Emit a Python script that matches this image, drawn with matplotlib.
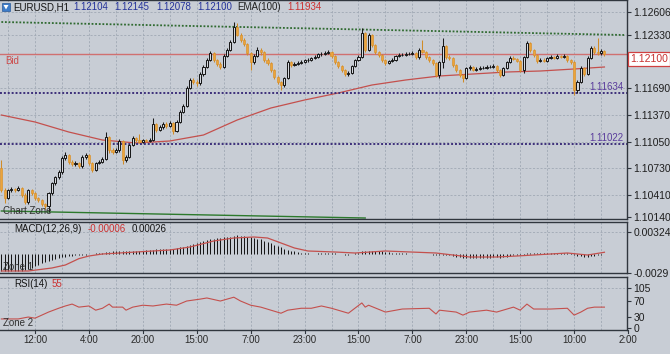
import numpy as np
import matplotlib.pyplot as plt
from matplotlib import transforms
from matplotlib.patches import Rectangle, Polygon

# ---- candles (EURUSD H1), bar index 0..179 ----
opens = [1.10732, 1.10468, 1.10372, 1.10468, 1.10480, 1.10468, 1.10492, 1.10408, 1.10324, 1.10468,
         1.10432, 1.10372, 1.10348, 1.10300, 1.10276, 1.10432, 1.10552, 1.10624, 1.10684, 1.10852,
         1.10888, 1.10804, 1.10780, 1.10792, 1.10756, 1.10864, 1.10888, 1.10792, 1.10708, 1.10792,
         1.10804, 1.10840, 1.11104, 1.10948, 1.10924, 1.10948, 1.11056, 1.10828, 1.10864, 1.11008,
         1.11092, 1.11068, 1.11044, 1.11068, 1.11056, 1.11068, 1.11260, 1.11188, 1.11224, 1.11260,
         1.11236, 1.11272, 1.11176, 1.11284, 1.11404, 1.11476, 1.11692, 1.11788, 1.11764, 1.11752,
         1.11860, 1.11944, 1.12028, 1.12112, 1.12028, 1.11980, 1.11944, 1.12076, 1.12148, 1.12244,
         1.12424, 1.12328, 1.12268, 1.12220, 1.12112, 1.12004, 1.12076, 1.12148, 1.12124, 1.12028,
         1.11992, 1.11908, 1.11824, 1.11764, 1.11728, 1.11812, 1.12004, 1.11968, 1.11980, 1.11992,
         1.12004, 1.12028, 1.12028, 1.12052, 1.12064, 1.12100, 1.12100, 1.12112, 1.12124, 1.12076,
         1.12004, 1.11956, 1.11908, 1.11860, 1.11872, 1.11956, 1.12028, 1.12064, 1.12352, 1.12148,
         1.12328, 1.12208, 1.12124, 1.12088, 1.12028, 1.11992, 1.12016, 1.12028, 1.12076, 1.12088,
         1.12088, 1.12100, 1.12100, 1.12112, 1.12064, 1.12148, 1.12124, 1.12064, 1.12028, 1.11992,
         1.11848, 1.12004, 1.12196, 1.12064, 1.12052, 1.11968, 1.11908, 1.11848, 1.11812, 1.11932,
         1.11944, 1.11908, 1.11920, 1.11932, 1.11932, 1.11944, 1.11944, 1.11956, 1.11908, 1.11848,
         1.11932, 1.12004, 1.12052, 1.12040, 1.12016, 1.11908, 1.12064, 1.12232, 1.12148, 1.12088,
         1.12016, 1.12028, 1.12016, 1.12052, 1.12064, 1.12052, 1.12076, 1.12064, 1.12076, 1.12028,
         1.12004, 1.11668, 1.11764, 1.11932, 1.11860, 1.12052, 1.12172, 1.12124, 1.12112, 1.12136]
highs = [1.10828, 1.10492, 1.10480, 1.10504, 1.10492, 1.10516, 1.10504, 1.10432, 1.10480, 1.10480,
         1.10444, 1.10384, 1.10360, 1.10312, 1.10444, 1.10564, 1.10636, 1.10708, 1.10876, 1.10924,
         1.10900, 1.10828, 1.10816, 1.10804, 1.10888, 1.10912, 1.10900, 1.10804, 1.10804, 1.10828,
         1.10864, 1.11164, 1.11116, 1.10972, 1.10972, 1.11080, 1.11068, 1.10888, 1.11020, 1.11116,
         1.11104, 1.11140, 1.11080, 1.11080, 1.11092, 1.11332, 1.11272, 1.11248, 1.11284, 1.11284,
         1.11296, 1.11284, 1.11308, 1.11428, 1.11500, 1.11716, 1.11812, 1.11812, 1.11788, 1.11884,
         1.11968, 1.12052, 1.12136, 1.12124, 1.12040, 1.12004, 1.12100, 1.12172, 1.12268, 1.12484,
         1.12472, 1.12352, 1.12292, 1.12232, 1.12124, 1.12100, 1.12184, 1.12172, 1.12136, 1.12052,
         1.12004, 1.11920, 1.11836, 1.11776, 1.11824, 1.12028, 1.12016, 1.12004, 1.12016, 1.12028,
         1.12040, 1.12052, 1.12064, 1.12088, 1.12112, 1.12124, 1.12136, 1.12148, 1.12136, 1.12088,
         1.12016, 1.11968, 1.11920, 1.11896, 1.11968, 1.12040, 1.12088, 1.12412, 1.12364, 1.12352,
         1.12340, 1.12220, 1.12136, 1.12100, 1.12040, 1.12028, 1.12052, 1.12088, 1.12112, 1.12112,
         1.12124, 1.12124, 1.12136, 1.12124, 1.12172, 1.12268, 1.12136, 1.12076, 1.12040, 1.12004,
         1.12016, 1.12292, 1.12208, 1.12088, 1.12064, 1.11980, 1.11920, 1.11860, 1.11944, 1.11968,
         1.11956, 1.11944, 1.11956, 1.11956, 1.11968, 1.11968, 1.11980, 1.11968, 1.11920, 1.11944,
         1.12016, 1.12076, 1.12076, 1.12052, 1.12028, 1.12076, 1.12256, 1.12244, 1.12160, 1.12100,
         1.12052, 1.12052, 1.12064, 1.12088, 1.12076, 1.12100, 1.12088, 1.12100, 1.12088, 1.12040,
         1.12016, 1.11788, 1.11956, 1.11944, 1.12076, 1.12196, 1.12196, 1.12292, 1.12160, 1.12148]
lows = [1.10444, 1.10312, 1.10360, 1.10444, 1.10444, 1.10456, 1.10384, 1.10300, 1.10300, 1.10408,
        1.10348, 1.10324, 1.10276, 1.10240, 1.10204, 1.10408, 1.10528, 1.10600, 1.10660, 1.10828,
        1.10780, 1.10756, 1.10756, 1.10732, 1.10732, 1.10840, 1.10768, 1.10684, 1.10696, 1.10780,
        1.10792, 1.10828, 1.10912, 1.10900, 1.10912, 1.10924, 1.10780, 1.10804, 1.10852, 1.10996,
        1.11044, 1.11032, 1.11032, 1.11044, 1.11044, 1.11056, 1.11164, 1.11176, 1.11200, 1.11212,
        1.11224, 1.11140, 1.11164, 1.11272, 1.11392, 1.11464, 1.11680, 1.11740, 1.11716, 1.11728,
        1.11836, 1.11932, 1.12016, 1.12004, 1.11956, 1.11920, 1.11932, 1.12064, 1.12136, 1.12232,
        1.12316, 1.12244, 1.12196, 1.12088, 1.11908, 1.11980, 1.12064, 1.12088, 1.12004, 1.11968,
        1.11884, 1.11800, 1.11740, 1.11668, 1.11704, 1.11800, 1.11944, 1.11956, 1.11968, 1.11980,
        1.11992, 1.12004, 1.12016, 1.12040, 1.12052, 1.12076, 1.12088, 1.12100, 1.12052, 1.11980,
        1.11932, 1.11884, 1.11836, 1.11836, 1.11860, 1.11944, 1.12016, 1.12052, 1.12124, 1.12136,
        1.12184, 1.12100, 1.12064, 1.12004, 1.11968, 1.11980, 1.12004, 1.12016, 1.12064, 1.12076,
        1.12076, 1.12088, 1.12088, 1.12040, 1.12040, 1.12112, 1.12040, 1.12004, 1.11968, 1.11824,
        1.11812, 1.11932, 1.12040, 1.12028, 1.11944, 1.11884, 1.11824, 1.11764, 1.11800, 1.11908,
        1.11896, 1.11896, 1.11908, 1.11920, 1.11920, 1.11932, 1.11932, 1.11884, 1.11824, 1.11836,
        1.11920, 1.11992, 1.12028, 1.12004, 1.11884, 1.11872, 1.12052, 1.12124, 1.12064, 1.11992,
        1.12004, 1.12004, 1.12004, 1.12040, 1.12040, 1.12040, 1.12052, 1.12052, 1.12004, 1.11980,
        1.11608, 1.11632, 1.11752, 1.11836, 1.11848, 1.12040, 1.12100, 1.12088, 1.12088, 1.12076]
closes = [1.10468, 1.10372, 1.10468, 1.10480, 1.10468, 1.10492, 1.10408, 1.10324, 1.10468, 1.10432,
          1.10372, 1.10348, 1.10300, 1.10276, 1.10432, 1.10552, 1.10624, 1.10684, 1.10852, 1.10888,
          1.10804, 1.10780, 1.10792, 1.10756, 1.10864, 1.10888, 1.10792, 1.10708, 1.10792, 1.10804,
          1.10840, 1.11104, 1.10948, 1.10924, 1.10948, 1.11056, 1.10828, 1.10864, 1.11008, 1.11092,
          1.11068, 1.11044, 1.11068, 1.11056, 1.11068, 1.11260, 1.11188, 1.11224, 1.11260, 1.11236,
          1.11272, 1.11176, 1.11284, 1.11404, 1.11476, 1.11692, 1.11788, 1.11764, 1.11752, 1.11860,
          1.11944, 1.12028, 1.12112, 1.12028, 1.11980, 1.11944, 1.12076, 1.12148, 1.12244, 1.12424,
          1.12328, 1.12268, 1.12220, 1.12112, 1.12004, 1.12076, 1.12148, 1.12124, 1.12028, 1.11992,
          1.11908, 1.11824, 1.11764, 1.11728, 1.11812, 1.12004, 1.11968, 1.11980, 1.11992, 1.12004,
          1.12028, 1.12028, 1.12052, 1.12064, 1.12100, 1.12100, 1.12112, 1.12124, 1.12076, 1.12004,
          1.11956, 1.11908, 1.11860, 1.11872, 1.11956, 1.12028, 1.12064, 1.12352, 1.12148, 1.12328,
          1.12208, 1.12124, 1.12088, 1.12028, 1.11992, 1.12016, 1.12028, 1.12076, 1.12088, 1.12088,
          1.12100, 1.12100, 1.12112, 1.12064, 1.12148, 1.12124, 1.12064, 1.12028, 1.11992, 1.11848,
          1.12004, 1.12196, 1.12064, 1.12052, 1.11968, 1.11908, 1.11848, 1.11812, 1.11932, 1.11944,
          1.11908, 1.11920, 1.11932, 1.11932, 1.11944, 1.11944, 1.11956, 1.11908, 1.11848, 1.11932,
          1.12004, 1.12052, 1.12040, 1.12016, 1.11908, 1.12064, 1.12232, 1.12148, 1.12088, 1.12016,
          1.12028, 1.12016, 1.12052, 1.12064, 1.12052, 1.12076, 1.12064, 1.12076, 1.12028, 1.12004,
          1.11668, 1.11764, 1.11932, 1.11860, 1.12052, 1.12172, 1.12124, 1.12112, 1.12136, 1.12100]

# EMA(100), read at a few bars
ema_idx = [0, 10, 20, 30, 40, 50, 60, 70, 80, 90, 100, 110, 120, 130, 140, 150, 160, 170, 179]
ema_val = [1.11368, 1.11284, 1.11164, 1.11068, 1.11032, 1.11056, 1.11128, 1.11308, 1.11452, 1.11548,
           1.11632, 1.11728, 1.11788, 1.11836, 1.11860, 1.11884, 1.11896, 1.11920, 1.11944]

# MACD histogram (one per bar) and signal line
macd_hist = [-0.0025, -0.0025, -0.0026, -0.0026, -0.0025, -0.0025, -0.0025, -0.0024, -0.0023, -0.0021,
             -0.0018, -0.0017, -0.0014, -0.0012, -0.0011, -0.0009, -0.0008, -0.0006, -0.0005, -0.0004,
             -0.0003, -0.0003, -0.0002, -0.0002, -0.0001, -0.0001, -0.00005, 0.0, 0.0001, 0.0001,
             0.0002, 0.0003, 0.0003, 0.0004, 0.0004, 0.0004, 0.0004, 0.0004, 0.0005, 0.0005,
             0.0005, 0.0005, 0.0005, 0.0006, 0.0006, 0.0006, 0.0007, 0.0007, 0.0007, 0.0008,
             0.0008, 0.0008, 0.0009, 0.0010, 0.0011, 0.0012, 0.0014, 0.0015, 0.0016, 0.0018,
             0.0019, 0.0021, 0.0022, 0.0023, 0.0024, 0.0024, 0.0025, 0.0026, 0.0026, 0.0027,
             0.0028, 0.0027, 0.0027, 0.0026, 0.0025, 0.0024, 0.0023, 0.0022, 0.0020, 0.0018,
             0.0016, 0.0014, 0.0012, 0.0010, 0.0008, 0.0006, 0.0005, 0.0004, 0.0003, 0.0002,
             0.0001, 0.0001, 0.00005, 0.00005, 0.0001, 0.0001, 0.00015, 0.0002, 0.0002, 0.0001,
             0.0, -0.00005, -0.0001, -0.0001, 0.0, 0.0001, 0.0002, 0.0004, 0.0004, 0.0005,
             0.0005, 0.0005, 0.0004, 0.0004, 0.0003, 0.0003, 0.0002, 0.0002, 0.0001, 0.0001,
             0.0001, 0.00005, 0.00005, 0.0, 0.0, 0.0, 0.0, -0.00005, -0.0001, -0.0002,
             -0.0002, -0.0001, -0.0002, -0.0002, -0.0003, -0.0004, -0.0005, -0.0006, -0.0006, -0.0006,
             -0.0006, -0.0006, -0.0006, -0.0006, -0.0006, -0.0006, -0.0005, -0.0005, -0.0006, -0.0005,
             -0.0004, -0.0003, -0.0002, -0.0002, -0.0002, -0.0001, 0.0001, 0.0001, 0.0002, 0.0002,
             0.0002, 0.0002, 0.0002, 0.0002, 0.0002, 0.0002, 0.0002, 0.0002, 0.0001, 0.0001,
             -0.0002, -0.0003, -0.0003, -0.0004, -0.0004, -0.0003, -0.0003, -0.0002, -0.0001, -0.00006]
sig_idx = [0, 8, 15, 19, 23, 26, 30, 40, 50, 56, 63, 69, 75, 79, 83, 87, 91, 99, 105, 114,
           129, 139, 147, 153, 163, 168, 174, 179]
sig_val = [-0.00255, -0.00255, -0.0021, -0.00165, -0.0007, -0.0003, 0.0, 0.0003, 0.0006, 0.00105,
           0.00195, 0.0024, 0.00255, 0.0024, 0.00165, 0.0009, 0.00045, 0.0003, 0.00015, 0.00045,
           0.00015, -0.00045, -0.00045, -0.0003, 0.0, 0.00015, -0.00015, 0.00026]

# RSI(14)
rsi_idx = [0, 5, 8, 10, 12, 14, 17, 19, 21, 23, 26, 28, 30, 32, 33, 36, 37, 39, 42, 45,
           49, 52, 55, 59, 61, 65, 69, 71, 74, 77, 80, 83, 85, 89, 92, 95, 98, 103, 107, 108,
           109, 114, 119, 127, 129, 130, 135, 137, 139, 144, 147, 152, 154, 156, 158, 163, 168, 170, 172, 174,
           176, 179]
rsi_val = [24, 24, 29, 26, 34, 42, 52, 58, 63, 55, 58, 47, 52, 63, 55, 55, 47, 55, 60, 58,
           63, 60, 71, 76, 79, 71, 81, 71, 60, 55, 47, 39, 47, 52, 52, 58, 52, 39, 66, 55,
           60, 42, 50, 52, 37, 47, 42, 34, 42, 47, 42, 55, 47, 63, 50, 50, 52, 34, 42, 52,
           55, 55]

# levels / trendlines
bid = 1.12100
levels = [1.11634, 1.11022]
top_trend_idx, top_trend_val = [0, 185], [1.12484, 1.12328]
low_trend_idx, low_trend_val = [0, 108], [1.10216, 1.10132]

price_ticks = [1.12606, 1.12330, 1.11690, 1.11370, 1.11050, 1.10730, 1.10410, 1.10140]
time_idx = [10, 26, 42, 58, 74, 90, 106, 122, 138, 154, 170, 186]
time_lbl = ['12:00', '4:00', '20:00', '15:00', '7:00', '23:00', '15:00', '7:00', '23:00', '15:00', '10:00', '2:00']

font = 'Liberation Sans'
bg = '#c8cdd5'
edge = '#30363e'
gridc = '#a0a8b4'
W, H = 670, 354


def box(x0, y0, x1, y1):
    return [x0 / W, 1 - y1 / H, (x1 - x0) / W, (y1 - y0) / H]


def ftext(x, y, s, **kw):
    kw.setdefault('family', font)
    kw.setdefault('fontsize', 7)
    kw.setdefault('va', 'center')
    fig.text(x / W, 1 - y / H, s, **kw)


fig = plt.figure(figsize=(6.7, 3.54), dpi=100, facecolor=bg)
ax = fig.add_axes(box(0, 0, 627, 219))
ax_m = fig.add_axes(box(0, 222, 627, 273))
ax_r = fig.add_axes(box(0, 277, 627, 330))

for a in (ax, ax_m, ax_r):
    a.set_facecolor(bg)
    a.set_xlim(-0.4, 185.7)
    for s in a.spines.values():
        s.set_color(edge)
        s.set_linewidth(1.0)
    a.spines['left'].set_visible(False)
    a.yaxis.tick_right()
    a.tick_params(axis='y', labelsize=7.5, length=3, width=0.8, color=edge, pad=1.5,
                  labelcolor='#1e1e1e', labelfontfamily=font)
    a.tick_params(axis='x', bottom=False, labelbottom=False)
    for g in range(2, 186, 8):
        a.axvline(g, color=gridc, lw=0.6, ls=(0, (2.5, 2)), zorder=0)

# ---- main price panel ----
x = np.arange(len(closes))
o, h, l, c = map(np.array, (opens, highs, lows, closes))
up = c >= o
ax.vlines(x[up], l[up], h[up], color='#1a1a1a', lw=0.75, zorder=3)
ax.vlines(x[~up], l[~up], h[~up], color='#d08c28', lw=0.75, zorder=3)
ax.bar(x[up], (c - o)[up], bottom=o[up], width=0.62, color='#d6d9df', edgecolor='#141414', lw=0.7, zorder=4)
ax.bar(x[~up], (c - o)[~up], bottom=o[~up], width=0.62, color='#eca43a', edgecolor='#d8902a', lw=0.45, zorder=4)

ax.plot(ema_idx, ema_val, color='#c4504d', lw=0.9, zorder=2)
ax.plot(top_trend_idx, top_trend_val, color='#2f6a30', lw=1.3, ls=(0, (1, 1)), zorder=2)
ax.plot(low_trend_idx, low_trend_val, color='#2c7a2c', lw=1.0, zorder=2)
ax.axhline(bid, color='#d07070', lw=1.0, zorder=2)
for lv in levels:
    ax.axhline(lv, color='#3d2f7a', lw=1.4, ls=(0, (1, 1)), zorder=2)
for t in price_ticks[:-1]:
    ax.axhline(t, color=gridc, lw=0.6, ls=(0, (2.5, 2)), zorder=0)

ax.set_ylim(1.10120, 1.12748)
ax.set_yticks(price_ticks)
ax.set_yticklabels(['%.5f' % t for t in price_ticks])

ymix = transforms.blended_transform_factory(ax.transAxes, ax.transData)
ax.text(1.0045, bid, '%.5f' % bid, transform=ymix, ha='left', va='top', fontsize=7.5,
        family=font, color='#c83030', zorder=6,
        bbox=dict(boxstyle='square,pad=0.22', fc='white', ec='#d04040', lw=0.9))
for lv in levels:
    ax.text(0.995, lv + 0.00016, '%.5f' % lv, transform=ymix, ha='right', va='bottom',
            fontsize=7, family=font, color='#5a3c9c')
ax.text(0.008, bid - 0.00024, 'Bid', transform=ymix, ha='left', va='top', fontsize=7,
        family=font, color='#cc4a4a')
ax.text(0.004, 0.038, 'Chart Zone', transform=ax.transAxes, ha='left', va='center',
        fontsize=7, family=font, color='#303030')

# ---- MACD panel ----
ax_m.vlines(x, 0, macd_hist, color='#111111', lw=0.7, zorder=3)
ax_m.plot(sig_idx, sig_val, color='#c4504d', lw=0.9, zorder=4)
ax_m.axhline(0.00324, color=gridc, lw=0.6, ls=(0, (2.5, 2)), zorder=0)
ax_m.set_ylim(-0.00285, 0.0048)
ax_m.set_yticks([0.00324, -0.00285])
ax_m.set_yticklabels(['0.00324', '-0.0029'])
ax_m.text(0.004, 0.12, 'Zone 1', transform=ax_m.transAxes, ha='left', va='center',
          fontsize=7, family=font, color='#303030', zorder=6)

# ---- RSI panel ----
ax_r.plot(rsi_idx, rsi_val, color='#c4504d', lw=0.8, zorder=3)
ax_r.axhline(105, color=gridc, lw=0.6, ls=(0, (2.5, 2)), zorder=0)
ax_r.set_ylim(-5, 134)
ax_r.set_yticks([105, 70, 30, 0])
ax_r.set_yticklabels(['105', '70', '30', '0'])
ax_r.text(0.004, 0.14, 'Zone 2', transform=ax_r.transAxes, ha='left', va='center',
          fontsize=7, family=font, color='#303030')

xmix = transforms.blended_transform_factory(ax_r.transData, ax_r.transAxes)
for i, s in zip(time_idx, time_lbl):
    ax_r.text(i, -0.19, s, transform=xmix, ha='center', va='center', fontsize=7,
              family=font, color='#2a2a2a', clip_on=False)
    ax_r.plot([i, i], [0, -0.05], transform=xmix, color=edge, lw=0.8, clip_on=False)

# ---- header texts ----
fig.patches.append(Rectangle((2 / W, 1 - 11 / H), 8 / W, 8 / H, transform=fig.transFigure,
                             fc='#3d7cc9', ec='#2a5a9a', lw=0.5))
fig.patches.append(Polygon([(3.5 / W, 1 - 5 / H), (8.5 / W, 1 - 5 / H), (6 / W, 1 - 9.5 / H)],
                           closed=True, transform=fig.transFigure, fc='white', ec='none'))
ftext(13, 7, 'EURUSD,H1', color='#141414')
for xx, s in zip([73, 114, 156, 197], ['1.12104', '1.12145', '1.12078', '1.12100']):
    ftext(xx, 7, s, color='#24329a')
ftext(237, 7, 'EMA(100)', color='#202020')
ftext(287, 7, '1.11934', color='#cc3030')

ftext(14, 229, 'MACD(12,26,9)', color='#141414')
ftext(88, 229, '-0.00006', color='#cc3030')
ftext(132, 229, '0.00026', color='#141414')
ftext(14, 284, 'RSI(14)', color='#141414')
ftext(52, 284, '55', color='#cc3030')

fig.savefig('out.png', dpi=100, facecolor=bg)
